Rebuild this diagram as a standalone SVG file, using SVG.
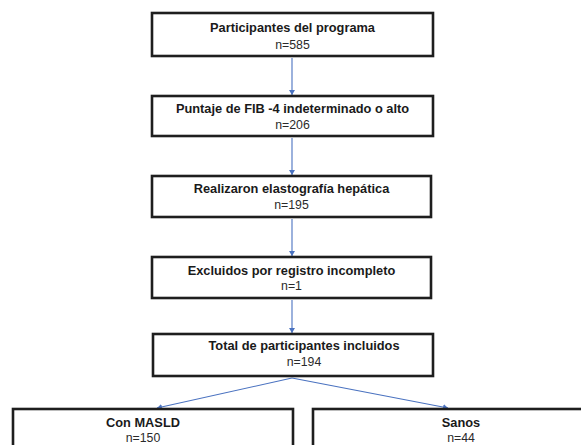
<svg xmlns="http://www.w3.org/2000/svg" width="581" height="445" viewBox="0 0 581 445">
<defs>
<style>
.box{fill:#fff;stroke:#1e1e1e;stroke-width:2.6}
.t{font-family:"Liberation Sans",Arial,sans-serif;font-size:12.8px;font-weight:bold;fill:#1a1a1a;text-anchor:middle}
.n{font-family:"Liberation Sans",Arial,sans-serif;font-size:12.3px;fill:#2a2a2a;text-anchor:middle}
.c{stroke:#4a72c0;stroke-width:1.1;fill:none;marker-end:url(#ah)}
</style>
<marker id="ah" markerWidth="6" markerHeight="6" refX="5" refY="3" orient="auto" markerUnits="userSpaceOnUse">
<path d="M0,0 L5,3 L0,6 Z" fill="#4a72c0"/>
</marker>
</defs>
<rect width="581" height="445" fill="#fff"/>
<g id="connectors">
<line class="c" x1="292" y1="58" x2="292" y2="95"/>
<line class="c" x1="292" y1="138" x2="292" y2="175"/>
<line class="c" x1="292" y1="219" x2="292" y2="256"/>
<line class="c" x1="292" y1="300" x2="292" y2="333"/>
<line class="c" x1="292" y1="378" x2="157" y2="408"/>
<line class="c" x1="292" y1="378" x2="448" y2="408"/>
</g>
<g id="n1">
<rect class="box" x="152" y="13" width="281" height="43"/>
<text class="t" x="292.5" y="32">Participantes del programa</text>
<text class="n" x="292.5" y="49">n=585</text>
</g>
<g id="n2">
<rect class="box" x="152" y="96" width="281" height="40"/>
<text class="t" x="292.5" y="113">Puntaje de FIB -4 indeterminado o alto</text>
<text class="n" x="292.5" y="129">n=206</text>
</g>
<g id="n3">
<rect class="box" x="152" y="176" width="279" height="41"/>
<text class="t" x="291.5" y="193">Realizaron elastografía hepática</text>
<text class="n" x="291.5" y="209">n=195</text>
</g>
<g id="n4">
<rect class="box" x="152" y="257" width="279" height="41"/>
<text class="t" x="291.5" y="275">Excluidos por registro incompleto</text>
<text class="n" x="291.5" y="290">n=1</text>
</g>
<g id="n5">
<rect class="box" x="153" y="334" width="280" height="42"/>
<text class="t" x="304" y="350">Total de participantes incluidos</text>
<text class="n" x="304" y="366">n=194</text>
</g>
<g id="n6">
<rect class="box" x="13" y="409" width="280" height="50"/>
<text class="t" x="143" y="427">Con MASLD</text>
<text class="n" x="143" y="442">n=150</text>
</g>
<g id="n7">
<rect class="box" x="313" y="409" width="280" height="50"/>
<text class="t" x="461" y="427">Sanos</text>
<text class="n" x="461" y="442">n=44</text>
</g>
</svg>
